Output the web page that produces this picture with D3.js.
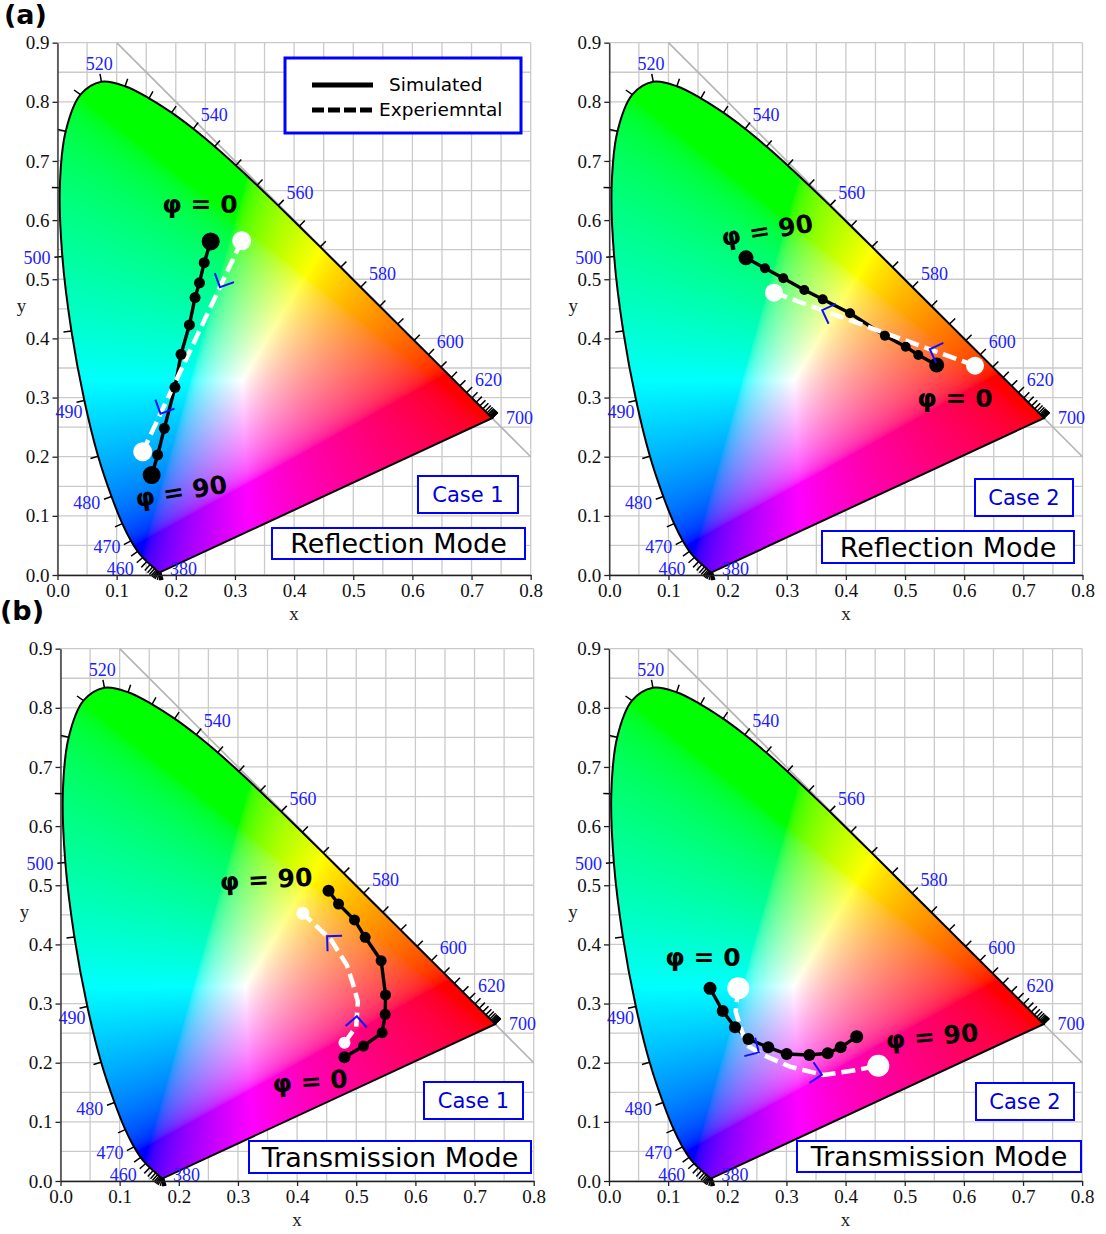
<!DOCTYPE html>
<html><head><meta charset="utf-8">
<script src="https://cdn.jsdelivr.net/npm/d3@7"></script>
<style>body{margin:0;background:#fff} svg{display:block}</style>
</head><body>
<svg id="chart" width="1106" height="1234"></svg>
<script>
// ---------- CIE 1931 spectral locus (5 nm) ----------
const locusNm = [380,385,390,395,400,405,410,415,420,425,430,435,440,445,450,455,460,465,470,475,480,485,490,495,500,505,510,515,520,525,530,535,540,545,550,555,560,565,570,575,580,585,590,595,600,605,610,615,620,625,630,635,640,645,650,655,660,665,670,675,680,685,690,695,700];
const locusX = [0.1741,0.1740,0.1738,0.1736,0.1733,0.1730,0.1726,0.1721,0.1714,0.1703,0.1689,0.1669,0.1644,0.1611,0.1566,0.1510,0.1440,0.1355,0.1241,0.1096,0.0913,0.0687,0.0454,0.0235,0.0082,0.0039,0.0139,0.0389,0.0743,0.1142,0.1547,0.1929,0.2296,0.2658,0.3016,0.3373,0.3731,0.4087,0.4441,0.4788,0.5125,0.5448,0.5752,0.6029,0.6270,0.6482,0.6658,0.6801,0.6915,0.7006,0.7079,0.7140,0.7190,0.7230,0.7260,0.7283,0.7300,0.7311,0.7320,0.7327,0.7334,0.7340,0.7344,0.7346,0.7347];
const locusY = [0.0050,0.0050,0.0049,0.0049,0.0048,0.0048,0.0048,0.0048,0.0051,0.0058,0.0069,0.0086,0.0109,0.0138,0.0177,0.0227,0.0297,0.0399,0.0578,0.0868,0.1327,0.2007,0.2950,0.4127,0.5384,0.6548,0.7502,0.8120,0.8338,0.8262,0.8059,0.7816,0.7543,0.7243,0.6923,0.6589,0.6245,0.5896,0.5547,0.5202,0.4866,0.4544,0.4242,0.3965,0.3725,0.3514,0.3340,0.3197,0.3083,0.2993,0.2920,0.2859,0.2809,0.2770,0.2740,0.2717,0.2700,0.2689,0.2680,0.2673,0.2666,0.2660,0.2656,0.2654,0.2653];
const locusLabels = [380,460,470,480,490,500,520,540,560,580,600,620,700];

const xTicks = [0.0,0.1,0.2,0.3,0.4,0.5,0.6,0.7,0.8];
const yTicks = [0.0,0.1,0.2,0.3,0.4,0.5,0.6,0.7,0.8,0.9];

// ---------- series (phi = 0 -> 90) ----------
// (a) Reflection, Case 1
const simA1x = [0.259,0.248,0.240,0.2325,0.223,0.2088,0.1986,0.1806,0.1694,0.1592];
const simA1y = [0.564,0.528,0.494,0.469,0.4227,0.373,0.3173,0.248,0.2029,0.169];
const expA1x = [0.3114,0.144];
const expA1y = [0.565,0.2085];
// (a) Reflection, Case 2
const simA2x = [0.5535,0.5224,0.5011,0.466,0.407,0.3608,0.3297,0.2942,0.2632,0.2311];
const simA2y = [0.355,0.3719,0.386,0.4046,0.4424,0.466,0.4818,0.5016,0.5185,0.5364];
const expA2x = [0.6183,0.2784];
const expA2y = [0.3539,0.4773];
// (b) Transmission, Case 1
const simB1x = [0.4801,0.5123,0.5438,0.549,0.5495,0.5421,0.5151,0.497,0.470,0.4531];
const simB1y = [0.2091,0.2282,0.2507,0.2818,0.3145,0.3725,0.412,0.4413,0.4683,0.4908];
const expB1x = [0.4801,0.4999,0.5027,0.4942,0.484,0.4576,0.4097];
const expB1y = [0.2338,0.2609,0.3032,0.3342,0.3652,0.4074,0.4526];
// (b) Transmission, Case 2
const simB2x = [0.1708,0.1922,0.213,0.2355,0.2693,0.3004,0.3387,0.3697,0.3917,0.4188];
const simB2y = [0.3258,0.2874,0.2598,0.2401,0.226,0.2147,0.213,0.2159,0.226,0.244];
const expB2x = [0.2186,0.2142,0.2322,0.2609,0.306,0.3623,0.4188,0.4553];
const expB2y = [0.3258,0.2862,0.2299,0.213,0.1933,0.1792,0.1877,0.1949];

// direction arrows (fraction of experimental path length)
const arrowsA1 = [0.22,0.82];
const arrowsA2 = [0.225,0.76];
const arrowsB1 = [0.20,0.78];
const arrowsB2 = [0.37,0.71];

const UNIT = 591.5;
const panels = [
  {x0:57.5, y0:575, sx:simA1x, sy:simA1y, ex:expA1x, ey:expA1y, arrows:arrowsA1,
   rSimEnd:9, rSimMid:5.5, rExp:[9.5,9.5], caseText:"Case 1", modeText:"Reflection Mode",
   caseBox:[418,476,100,37], modeBox:[272,528,253,31],
   phi:[{t:"φ = 0",x:200,y:204,r:0},{t:"φ = 90",x:181,y:491,r:-9}], legend:true},
  {x0:609.3, y0:575, sx:simA2x, sy:simA2y, ex:expA2x, ey:expA2y, arrows:arrowsA2,
   rSimEnd:7.5, rSimMid:5, rExp:[9,9], caseText:"Case 2", modeText:"Reflection Mode",
   caseBox:[975,479,98,37], modeBox:[822,531,252,32],
   phi:[{t:"φ = 90",x:767,y:230,r:-9},{t:"φ = 0",x:955,y:398,r:0}]},
  {x0:60.5, y0:1181, sx:simB1x, sy:simB1y, ex:expB1x, ey:expB1y, arrows:arrowsB1,
   rSimEnd:6, rSimMid:5.5, rExp:[6,6.5], caseText:"Case 1", modeText:"Transmission Mode",
   caseBox:[424,1082,99,37], modeBox:[249,1141,282,32],
   phi:[{t:"φ = 90",x:266,y:879,r:-3},{t:"φ = 0",x:310,y:1081,r:-4}]},
  {x0:609, y0:1181, sx:simB2x, sy:simB2y, ex:expB2x, ey:expB2y, arrows:arrowsB2,
   rSimEnd:6.5, rSimMid:6, rExp:[11,11], caseText:"Case 2", modeText:"Transmission Mode",
   caseBox:[976,1083,98,37], modeBox:[797,1141,284,31],
   phi:[{t:"φ = 0",x:703,y:957,r:0},{t:"φ = 90",x:932,y:1036,r:-5}]}
];

const svg = d3.select('#chart');
svg.append('rect').attr('width',1106).attr('height',1234).attr('fill','#fff');

// ---------- chromaticity colour image ----------
function gamutImage(){
  const W = Math.round(0.76*UNIT), H = Math.round(0.86*UNIT);
  const gx = d3.scaleLinear().domain([0,0.76]).range([0,W]);
  const gy = d3.scaleLinear().domain([0.86,0]).range([0,H]);
  const cv = document.createElement('canvas'); cv.width=W; cv.height=H;
  const ctx = cv.getContext('2d'); const img = ctx.createImageData(W,H);
  const gam = c => c<=0.0031308 ? 12.92*c : 1.055*Math.pow(c,1/2.4)-0.055;
  for(let j=0;j<H;j++){
    const yy = gy.invert(j+0.5);
    for(let i=0;i<W;i++){
      const xx = gx.invert(i+0.5);
      const k = (j*W+i)*4;
      if(yy<=0.001){img.data[k+3]=0;continue;}
      const X=xx/yy, Y=1, Z=(1-xx-yy)/yy;
      let r= 3.2406*X-1.5372*Y-0.4986*Z;
      let g=-0.9689*X+1.8758*Y+0.0415*Z;
      let b= 0.0557*X-0.2040*Y+1.0570*Z;
      r=Math.max(0,r); g=Math.max(0,g); b=Math.max(0,b);
      const m=Math.max(r,g,b)||1;
      img.data[k]=Math.round(255*gam(r/m));
      img.data[k+1]=Math.round(255*gam(g/m));
      img.data[k+2]=Math.round(255*gam(b/m));
      img.data[k+3]=255;
    }
  }
  ctx.putImageData(img,0,0);
  return cv.toDataURL();
}
const gamutURL = gamutImage();

const serif = '"Liberation Serif", "Times New Roman", serif';
const sans = '"DejaVu Sans", Verdana, sans-serif';

panels.forEach((p,pi)=>{
  const x = d3.scaleLinear().domain([0,0.8]).range([p.x0, p.x0+0.8*UNIT]);
  const y = d3.scaleLinear().domain([0,0.9]).range([p.y0, p.y0-0.9*UNIT]);
  const g = svg.append('g');

  // grid
  g.append('g').selectAll('line').data(x.ticks(16)).join('line')
    .attr('x1',d=>x(d)).attr('x2',d=>x(d)).attr('y1',y(0)).attr('y2',y(0.9))
    .attr('stroke','#cacaca').attr('stroke-width',1.3);
  g.append('g').selectAll('line').data(y.ticks(18)).join('line')
    .attr('y1',d=>y(d)).attr('y2',d=>y(d)).attr('x1',x(0)).attr('x2',x(0.8))
    .attr('stroke','#cacaca').attr('stroke-width',1.3);
  // x + y = 1 line
  g.append('line').attr('x1',x(0.1)).attr('y1',y(0.9)).attr('x2',x(0.8)).attr('y2',y(0.2))
    .attr('stroke','#b4b4b4').attr('stroke-width',1.6);

  // locus
  const pts = locusX.map((v,i)=>[x(v), y(locusY[i])]);
  const lineGen = d3.line().curve(d3.curveCatmullRom.alpha(0.5));
  const locusPath = lineGen(pts)+'Z';
  const clipId = 'clip'+pi;
  g.append('clipPath').attr('id',clipId).append('path').attr('d',locusPath);
  g.append('image').attr('href',gamutURL).attr('x',x(0)).attr('y',y(0.86))
    .attr('width',x(0.76)-x(0)).attr('height',y(0)-y(0.86))
    .attr('preserveAspectRatio','none').attr('clip-path',`url(#${clipId})`);
  g.append('path').attr('d',locusPath).attr('fill','none').attr('stroke','#000').attr('stroke-width',2);

  // ticks on locus
  const normals = pts.map((pt,i)=>{
    const a = pts[Math.max(0,i-1)], b = pts[Math.min(pts.length-1,i+1)];
    const tx=b[0]-a[0], ty=b[1]-a[1]; const L=Math.hypot(tx,ty)||1;
    return [ty/L, -tx/L];
  });
  const TL=8;
  g.append('g').selectAll('line').data(pts).join('line')
    .attr('x1',d=>d[0]).attr('y1',d=>d[1])
    .attr('x2',(d,i)=>d[0]+normals[i][0]*TL).attr('y2',(d,i)=>d[1]+normals[i][1]*TL)
    .attr('stroke','#000').attr('stroke-width',1.5);
  // wavelength labels
  const labDir = {380:[1,0.35],700:[1,0]};
  const labShift = {490:[10,8],470:[0,-3],380:[3,-7]};
  locusLabels.forEach(nm=>{
    const i = locusNm.indexOf(nm);
    let n = normals[i];
    if(labDir[nm]){const v=labDir[nm]; const L=Math.hypot(v[0],v[1]); n=[v[0]/L,v[1]/L];}
    const d = nm===380?7:(nm===700?14:TL+4);
    const sh = labShift[nm]||[0,0];
    const px = pts[i][0]+n[0]*d+sh[0], py = pts[i][1]+n[1]*d+sh[1];
    const anchor = n[0]>0.35?'start':(n[0]<-0.35?'end':'middle');
    g.append('text').attr('x',px).attr('y',py+6+n[1]*6)
      .attr('text-anchor',anchor).style('font-family',serif).attr('font-size',18)
      .attr('fill','#2020ff').text(nm);
  });

  // axes
  const ax = g.append('g').attr('transform',`translate(0,${y(0)})`)
    .call(d3.axisBottom(x).tickValues(xTicks).tickFormat(d3.format('.1f')).tickSize(5).tickSizeOuter(0));
  const ay = g.append('g').attr('transform',`translate(${x(0)},0)`)
    .call(d3.axisLeft(y).tickValues(yTicks).tickFormat(d3.format('.1f')).tickSize(5).tickSizeOuter(0));
  [ax,ay].forEach(a=>{
    a.attr('font-family',null);
    a.selectAll('text').style('font-family',serif).attr('font-size',19).attr('fill','#111');
    a.selectAll('path,line').attr('stroke','#222').attr('stroke-width',1.3);
  });
  ax.selectAll('text').attr('dy','0.72em');
  ay.selectAll('text').attr('dx','0');
  g.append('text').attr('x',(x(0)+x(0.8))/2).attr('y',y(0)+45).attr('text-anchor','middle')
    .style('font-family',serif).attr('font-size',19).attr('fill','#222').text('x');
  g.append('text').attr('x',x(0)-36).attr('y',y(0.45)+3).attr('text-anchor','middle')
    .style('font-family',serif).attr('font-size',19).attr('fill','#222').text('y');

  // simulated + experimental
  const simPts = p.sx.map((v,i)=>[x(v),y(p.sy[i])]);
  const expPts = p.ex.map((v,i)=>[x(v),y(p.ey[i])]);
  const lin = d3.line();
  g.append('path').attr('d',lin(simPts)).attr('fill','none').attr('stroke','#000').attr('stroke-width',3.4);
  const expPath = g.append('path').attr('d',lin(expPts)).attr('fill','none').attr('stroke','#fff')
    .attr('stroke-width',4.5).attr('stroke-dasharray','14,6');
  g.append('g').selectAll('circle').data(simPts).join('circle')
    .attr('cx',d=>d[0]).attr('cy',d=>d[1])
    .attr('r',(d,i)=> (i===0||i===simPts.length-1)?p.rSimEnd:p.rSimMid).attr('fill','#000');
  g.append('g').selectAll('circle').data([expPts[0],expPts[expPts.length-1]]).join('circle')
    .attr('cx',d=>d[0]).attr('cy',d=>d[1]).attr('r',(d,i)=>p.rExp[i]).attr('fill','#fff');

  // arrows
  const node = expPath.node(); const L = node.getTotalLength();
  p.arrows.forEach(f=>{
    const s=f*L; const a=node.getPointAtLength(Math.max(0,s-2)), b=node.getPointAtLength(Math.min(L,s+2));
    const tip=node.getPointAtLength(s);
    let dx=b.x-a.x, dy=b.y-a.y; const l=Math.hypot(dx,dy)||1; dx/=l; dy/=l;
    const ang=Math.PI/4, AL=15;
    const arm = sgn=>{const c=Math.cos(sgn*ang), sN=Math.sin(sgn*ang);
      const bx=-dx, by=-dy; return [tip.x+AL*(bx*c-by*sN), tip.y+AL*(bx*sN+by*c)];};
    const a1=arm(1), a2=arm(-1);
    g.append('path').attr('d',`M${a1[0]},${a1[1]}L${tip.x},${tip.y}L${a2[0]},${a2[1]}`)
      .attr('fill','none').attr('stroke','#1010ff').attr('stroke-width',2);
  });

  // phi labels
  p.phi.forEach(t=>{
    g.append('text').attr('transform',`translate(${t.x},${t.y}) rotate(${t.r})`)
      .attr('text-anchor','middle').attr('dy','0.36em').style('font-family',sans)
      .attr('font-weight','bold').attr('font-size',25).attr('fill','#000').text(t.t);
  });

  // case + mode boxes
  const cb=p.caseBox, mb=p.modeBox;
  g.append('rect').attr('x',cb[0]).attr('y',cb[1]).attr('width',cb[2]).attr('height',cb[3])
    .attr('fill','#fff').attr('stroke','#0000ff').attr('stroke-width',2);
  g.append('text').attr('x',cb[0]+cb[2]/2).attr('y',cb[1]+cb[3]/2).attr('dy','0.36em')
    .attr('text-anchor','middle').style('font-family',sans).attr('font-size',21).attr('fill','#0000dd').text(p.caseText);
  g.append('rect').attr('x',mb[0]).attr('y',mb[1]).attr('width',mb[2]).attr('height',mb[3])
    .attr('fill','#fff').attr('stroke','#0000ff').attr('stroke-width',2);
  g.append('text').attr('x',mb[0]+mb[2]/2).attr('y',mb[1]+mb[3]/2).attr('dy','0.36em')
    .attr('text-anchor','middle').style('font-family',sans).attr('font-size',27).attr('fill','#000').text(p.modeText);

  if(p.legend){
    const lg=g.append('g');
    lg.append('rect').attr('x',285).attr('y',58).attr('width',236).attr('height',75)
      .attr('fill','#fff').attr('stroke','#0000ff').attr('stroke-width',3);
    lg.append('line').attr('x1',312).attr('x2',373).attr('y1',85).attr('y2',85).attr('stroke','#000').attr('stroke-width',5);
    lg.append('line').attr('x1',312).attr('x2',373).attr('y1',110).attr('y2',110).attr('stroke','#000').attr('stroke-width',5).attr('stroke-dasharray','12,4');
    lg.append('text').attr('x',389).attr('y',91).style('font-family',sans).attr('font-size',18.5).attr('fill','#000').text('Simulated');
    lg.append('text').attr('x',379).attr('y',116).style('font-family',sans).attr('font-size',18.5).attr('fill','#000').text('Experiemntal');
  }
});

svg.append('text').attr('x',4).attr('y',24).style('font-family',sans).attr('font-weight','bold').attr('font-size',27).text('(a)');
svg.append('text').attr('x',0).attr('y',620).style('font-family',sans).attr('font-weight','bold').attr('font-size',27).text('(b)');
</script>
</body></html>
